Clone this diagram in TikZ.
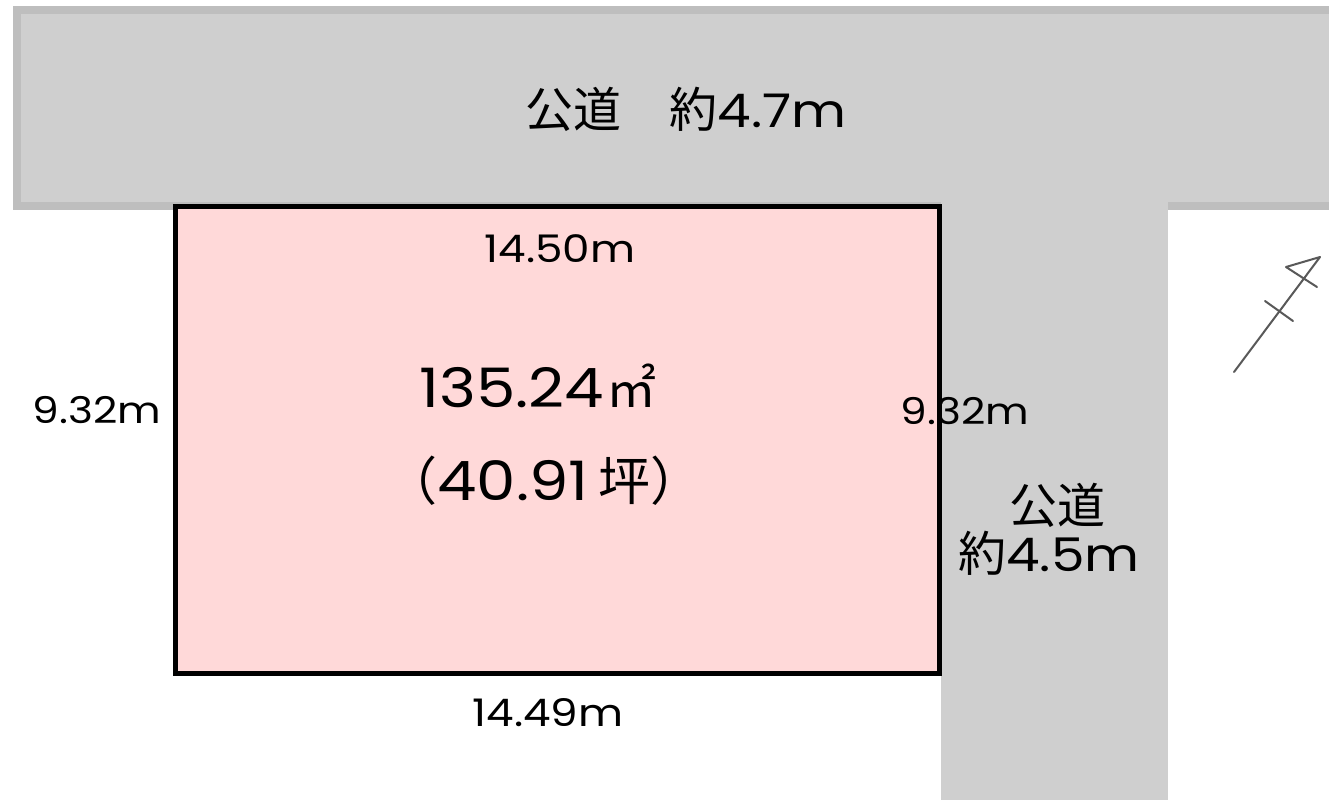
\documentclass[tikz,border=0pt]{standalone}
\usepackage{fontspec}
\setmainfont[FakeStretch=1.15]{Poppins}
\newfontfamily\cjk{Noto Sans CJK JP}
\definecolor{roadfill}{HTML}{CFCFCF}
\definecolor{roadedge}{HTML}{BEBEBE}
\definecolor{lotfill}{HTML}{FFD9D9}
\newcommand{\cjkarea}[1]{{\fontsize{50}{50}\selectfont\cjk #1}}
\newcommand{\cjkbig}[1]{{\fontsize{52}{52}\selectfont\cjk #1}}
\newcommand{\cjkroad}[1]{{\fontsize{48}{48}\selectfont\cjk #1}}
\tikzset{
  lbl/.style={inner sep=0pt,text=black,font=\fontsize{38}{38}\selectfont},
  sidelbl/.style={inner sep=0pt,text=black,font=\fontsize{36.8}{36.8}\selectfont},
  biglbl/.style={inner sep=0pt,text=black,font=\fontsize{54.4}{54.4}\selectfont},
  roadlbl/.style={inner sep=0pt,text=black,font=\fontsize{46.4}{46.4}\selectfont},
  north mark/.style={draw=black!65,line width=2pt,line cap=round,line join=round}
}
\begin{document}
\begin{tikzpicture}[x=1pt,y=-1pt]
\useasboundingbox (0,0) rectangle (1329,800);
\fill[white] (0,0) rectangle (1329,800);
\fill[roadedge] (13,6) rectangle (1329,210);
\fill[roadfill] (21,14) rectangle (1329,202);
\fill[roadfill] (941,202) rectangle (1168,800);
\draw[black,line width=5pt,fill=lotfill] (175.5,206.5) rectangle (939.5,673.5);
\node[roadlbl] (road1) at (686,109) {\cjkroad{公道　約}4.7m};
\node[roadlbl] (road2a) at (1057,505) {\cjkroad{公道}};
\node[roadlbl] (road2b) at (1049,553) {\cjkroad{約}4.5m};
\node[lbl] (top) at (560,249) {14.50m};
\node[lbl] (bottom) at (548,713) {14.49m};
\node[sidelbl] (left) at (97,410) {9.32m};
\node[sidelbl] (right) at (965,411) {9.32m};
\node[biglbl] (area) at (538,386) {135.24\hspace{2pt}\cjkarea{㎡}};
\node[biglbl] (tsubo) at (544,481) {\cjkbig{（}40.91\hspace{10pt}\cjkbig{坪）}};
\draw[north mark] (1234,372) -- (1320,257) -- (1286,267) -- (1317,287);
\draw[north mark] (1265,301) -- (1293,321);
\end{tikzpicture}
\end{document}
